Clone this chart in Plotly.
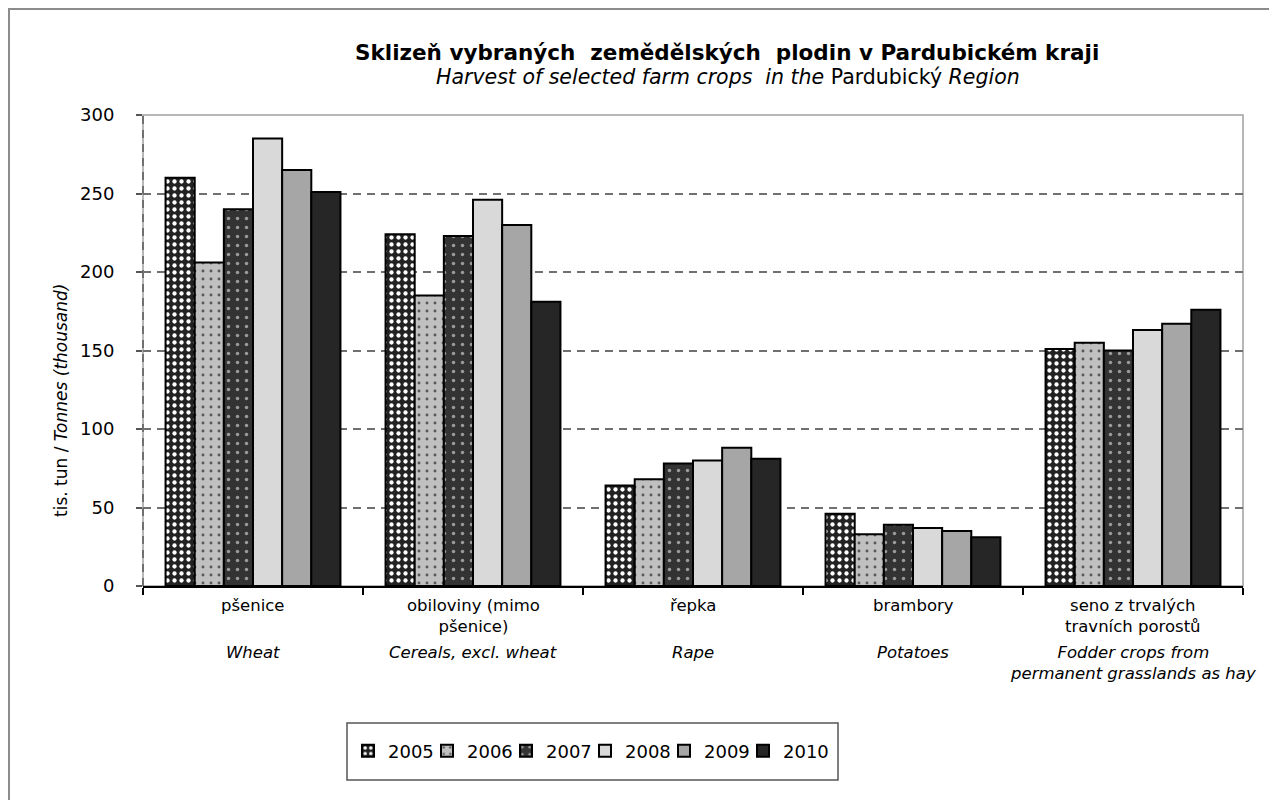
import plotly.graph_objects as go

categories = ["pšenice", "obiloviny (mimo pšenice)", "řepka", "brambory", "seno z trvalých travních porostů"]
cat_cz = ["pšenice", "obiloviny (mimo<br>pšenice)", "řepka", "brambory", "seno z trvalých<br>travních porostů"]
cat_en = ["Wheat", "Cereals, excl. wheat", "Rape", "Potatoes", "Fodder crops from<br>permanent grasslands as hay"]
years = ["2005", "2006", "2007", "2008", "2009", "2010"]
v2005 = [260, 224, 64, 46, 151]
v2006 = [206, 185, 68, 33, 155]
v2007 = [240, 223, 78, 39, 150]
v2008 = [285, 246, 80, 37, 163]
v2009 = [265, 230, 88, 35, 167]
v2010 = [251, 181, 81, 31, 176]
series = [v2005, v2006, v2007, v2008, v2009, v2010]
y_ticks = [0, 50, 100, 150, 200, 250, 300]

styles = [
    dict(color="#222222", pattern=dict(shape=".", fgcolor="#ffffff", bgcolor="#222222", size=7, solidity=0.3, fillmode="replace")),
    dict(color="#c0c0c0", pattern=dict(shape=".", fgcolor="#555555", bgcolor="#c0c0c0", size=8, solidity=0.1, fillmode="replace")),
    dict(color="#333333", pattern=dict(shape=".", fgcolor="#9a9a9a", bgcolor="#333333", size=9, solidity=0.12, fillmode="replace")),
    dict(color="#d9d9d9"),
    dict(color="#a6a6a6"),
    dict(color="#262626"),
]

# layout in reference-picture pixels (page has an 8px body margin)
OFF = 8
L, R, T, B = 143, 1243, 115, 586
W, H = R - L, B - T
FW, FH = 1277 - OFF, 800 - OFF
def px(xp):
    return (xp - L) / W
def py(yp):
    return (B - yp) / H

fig = go.Figure()
for yr, vals, st in zip(years, series, styles):
    fig.add_trace(go.Bar(
        x=categories, y=vals, name=yr,
        marker=dict(line=dict(color="#000000", width=2), **st),
    ))
# invisible spacer entry so the compact legend is not clipped on the right
fig.add_trace(go.Scatter(x=[None], y=[None], mode="lines", name=" ",
                         line=dict(color="rgba(0,0,0,0)"), hoverinfo="skip"))

font_family = "DejaVu Sans, Liberation Sans, Arial, sans-serif"

annotations = []
for c, cz, en in zip(categories, cat_cz, cat_en):
    annotations.append(dict(x=c, xref="x", y=py(594), yref="paper", yanchor="top", xanchor="center",
                            text=cz, showarrow=False, align="center",
                            font=dict(size=16.5, family=font_family, color="#000")))
    annotations.append(dict(x=c, xref="x", y=py(641), yref="paper", yanchor="top", xanchor="center",
                            text="<i>" + en + "</i>", showarrow=False, align="center",
                            font=dict(size=16.5, family=font_family, color="#000")))
annotations.append(dict(x=px(61), xref="paper", y=py(400), yref="paper", xanchor="center", yanchor="middle",
                        text="tis. tun / <i>Tonnes (thousand)</i>", textangle=-90,
                        showarrow=False, font=dict(size=17, family=font_family, color="#000")))
annotations.append(dict(x=px(727), xref="paper", y=py(52), yref="paper", xanchor="center", yanchor="middle",
                        text="<b>Sklizeň vybraných  zemědělských  plodin v Pardubickém kraji</b>",
                        showarrow=False, font=dict(size=21.5, family=font_family, color="#000")))
annotations.append(dict(x=px(728), xref="paper", y=py(77), yref="paper", xanchor="center", yanchor="middle",
                        text="<i>Harvest of selected farm crops  in the</i> Pardubický <i>Region</i>",
                        showarrow=False, font=dict(size=20.5, family=font_family, color="#000")))

shapes = [
    dict(type="rect", xref="paper", yref="paper", x0=px(9), x1=px(1300), y0=py(830), y1=py(9),
         line=dict(color="#8c8c8c", width=2), layer="below"),
    dict(type="rect", xref="paper", yref="paper", x0=0, x1=1, y0=0, y1=1,
         line=dict(color="#a0a0a0", width=1.5), layer="below"),
    dict(type="line", xref="paper", yref="paper", x0=0, x1=0, y0=0, y1=1,
         line=dict(color="#707070", width=2, dash="8px,6px"), layer="below"),
    # legend frame
    dict(type="rect", xref="paper", yref="paper", x0=px(347), x1=px(838), y0=py(780), y1=py(723),
         line=dict(color="#555555", width=1.5), fillcolor="rgba(0,0,0,0)", layer="above"),
]

fig.update_layout(
    width=FW, height=FH,
    margin=dict(l=L - OFF, r=FW - (R - OFF), t=T - OFF, b=FH - (B - OFF)),
    paper_bgcolor="#ffffff", plot_bgcolor="#ffffff",
    barmode="group", bargap=0.205, bargroupgap=0,
    font=dict(family=font_family, size=18, color="#000"),
    showlegend=True,
    legend=dict(orientation="h", x=px(348), y=py(751), xanchor="left", yanchor="middle",
                borderwidth=0, bgcolor="rgba(0,0,0,0)",
                font=dict(size=18, family=font_family, color="#000"),
                entrywidth=34, entrywidthmode="pixels",
                itemsizing="constant", traceorder="normal"),
    xaxis=dict(range=[-0.5, 4.5], showticklabels=False, ticks="outside", tickson="boundaries",
               ticklen=7, tickwidth=2, tickcolor="#000", showline=True, linecolor="#000",
               linewidth=2, showgrid=False, zeroline=False, fixedrange=True),
    yaxis=dict(range=[0, 300], tickvals=y_ticks, ticks="outside", ticklen=6, tickcolor="#555",
               tickwidth=1.5, showline=False, showgrid=True, gridcolor="#707070", gridwidth=2,
               griddash="8px,6px", zeroline=False, tickfont=dict(size=18, family=font_family),
               ticklabelstandoff=18),
    annotations=annotations,
    shapes=shapes,
)

fig.write_html("out.html")
